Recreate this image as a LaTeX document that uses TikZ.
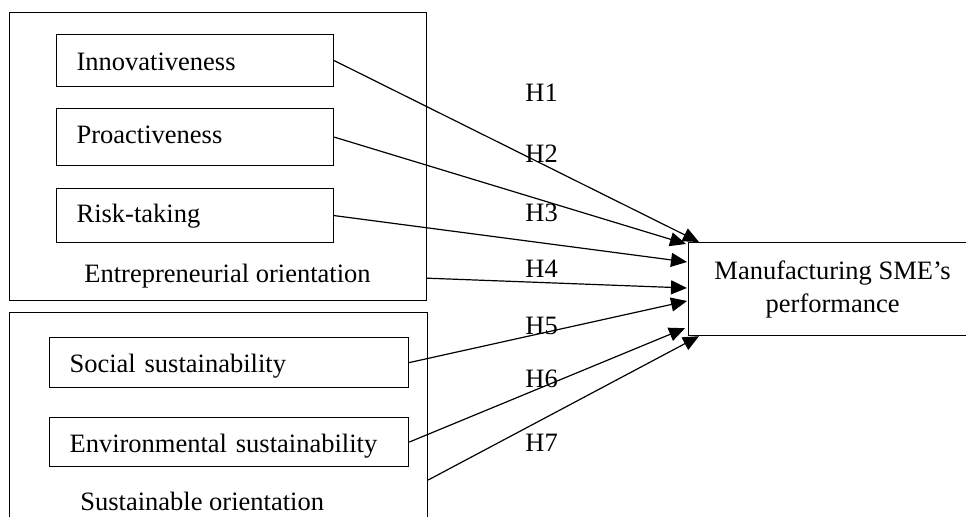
\documentclass[tikz,border=0pt]{standalone}
\usepackage{fontspec}
\setmainfont{Liberation Serif}
\usetikzlibrary{arrows.meta,calc}
\begin{document}
\begin{tikzpicture}[x=0.5pt,y=-0.5pt,
  every node/.style={font=\fontsize{13.25}{16.5}\selectfont},
  frame/.style={draw, line width=0.6pt, inner sep=0pt, anchor=north west},
  item/.style={draw, line width=0.6pt, anchor=north west, inner xsep=10pt, inner ysep=0pt, align=left},
  lab/.style={anchor=base west, inner sep=0pt},
  link/.style={line width=0.6pt, -{Triangle[length=8pt,width=7pt]}}]
\clip (0,0) rectangle (966,517);
% outer groups
\node[frame, minimum width=208.5pt, minimum height=144pt] (eo) at (9,12) {};
\node[frame, minimum width=209pt, minimum height=105pt] (so) at (9,312) {};
\node[lab] (eolab) at (84,283) {Entrepreneurial orientation};
\node[lab] (solab) at (80,511) {Sustainable orientation};
% items
\node[item, text width=118.5pt, text height=18pt, text depth=8pt] (innov) at (56,34) {Innovativeness};
\node[item, text width=118.5pt, text height=17.5pt, text depth=11pt] (proact) at (56,108) {Proactiveness};
\node[item, text width=118.5pt, text height=17pt, text depth=10pt] (risk) at (56,188) {Risk-taking};
\node[item, text width=159.5pt, text height=17.5pt, text depth=7.5pt] (social) at (49,337) {Social sustainability};
\node[item, text width=159.5pt, text height=17.5pt, text depth=7pt] (env) at (49,417) {Environmental sustainability};
% target
\node[draw, line width=0.6pt, anchor=north west, minimum width=144pt, minimum height=46.5pt, align=center, inner sep=0pt] (tgt) at (688,242) {Manufacturing SME’s\\performance};
% connectors
\draw[link] (innov.east) -- ($(tgt.north west)+(11,0)$);
\draw[link] (proact.east) -- ($(tgt.north west)+(-2,2)$);
\draw[link] (risk.east) -- ($(tgt.north west)+(-1,20)$);
\draw[link] ($(eo.south east)+(0,-23)$) -- ($(tgt.north west)+(-1,46)$);
\draw[link] (social.east) -- ($(tgt.north west)+(-1,59)$);
\draw[link] (env.east) -- ($(tgt.south west)+(-3,-8)$);
\draw[link] ($(so.north east)+(0,168)$) -- ($(tgt.south west)+(11,0)$);
% hypothesis labels
\node[lab] (h1) at (525,102) {H1};
\node[lab] (h2) at (525,163) {H2};
\node[lab] (h3) at (525,222) {H3};
\node[lab] (h4) at (525,278) {H4};
\node[lab] (h5) at (525,335) {H5};
\node[lab] (h6) at (525,388) {H6};
\node[lab] (h7) at (525,452) {H7};
\end{tikzpicture}
\end{document}
